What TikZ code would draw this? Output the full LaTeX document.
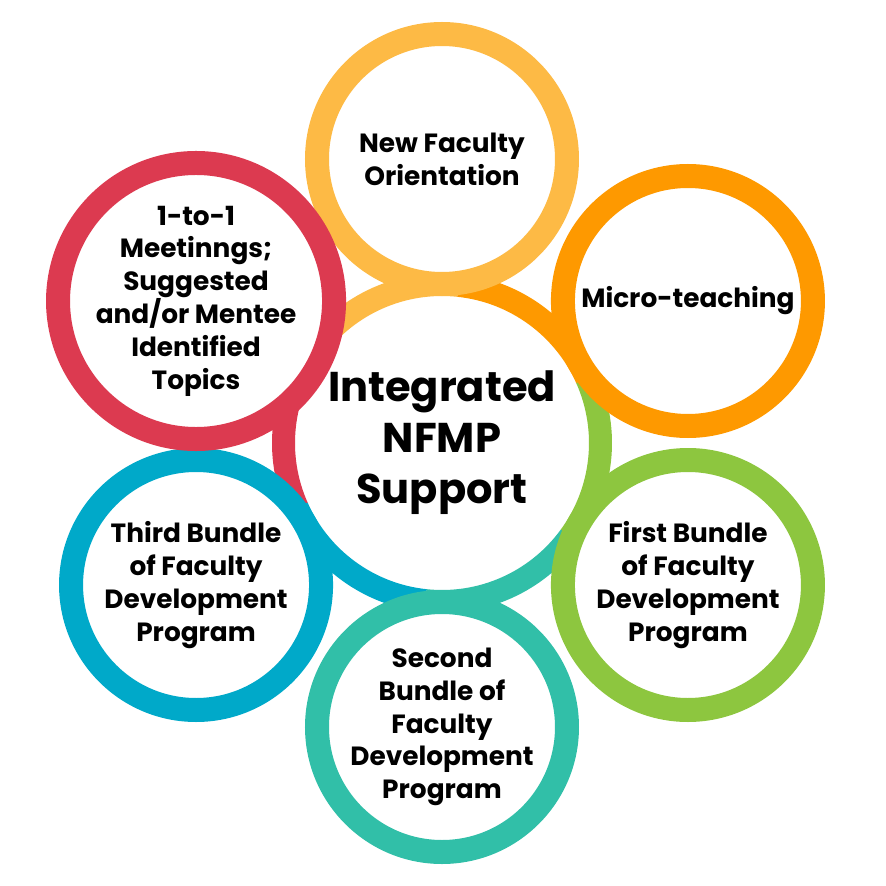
\documentclass[tikz,border=0pt]{standalone}
\usepackage{fontspec}
\setmainfont{Poppins}
\usepackage{xcolor}
\usetikzlibrary{positioning}

\begin{document}
\begin{tikzpicture}[
    ring/.style={
        circle, draw, line width=0.72cm, fill=white, minimum size=7.5cm,
        inner sep=0pt, align=center, text=black,
        font=\fontsize{22.5}{28}\selectfont\bfseries
    },
    hubnode/.style={
        circle, fill=white, minimum size=8.82cm, inner sep=0pt,
        align=center, text=black,
        font=\fontsize{35.5}{43.5}\selectfont\bfseries
    },
    seg/.style={line width=0.69cm}
]

% Ring colors (counterclockwise from the top)
\definecolor{cyellow}{HTML}{FDBA45}
\definecolor{corange}{HTML}{FE9900}
\definecolor{cgreen}{HTML}{8DC63F}
\definecolor{cteal}{HTML}{31BFA8}
\definecolor{cblue}{HTML}{00A9C9}
\definecolor{cred}{HTML}{DC3A50}

\useasboundingbox (-13.26,-13.29) rectangle (13.32,13.29);

% Central hub
\node[hubnode] (hub) at (0,0) {Integrated\\NFMP\\Support};

% Hub ring, one arc per color
\draw[seg, corange] ([shift={(24:4.755)}]hub.center) arc[start angle=24, end angle=84, radius=4.755];
\draw[seg, cyellow] ([shift={(84:4.755)}]hub.center) arc[start angle=84, end angle=144, radius=4.755];
\draw[seg, cred] ([shift={(144:4.755)}]hub.center) arc[start angle=144, end angle=204, radius=4.755];
\draw[seg, cblue] ([shift={(204:4.755)}]hub.center) arc[start angle=204, end angle=264, radius=4.755];
\draw[seg, cteal] ([shift={(264:4.755)}]hub.center) arc[start angle=264, end angle=324, radius=4.755];
\draw[seg, cgreen] ([shift={(324:4.755)}]hub.center) arc[start angle=324, end angle=384, radius=4.755];

% Outer circles
\node[ring, draw=cyellow] (orient) at (90:8.52) {New Faculty\\Orientation};
\node[ring, draw=corange] (micro) at (30:8.52) {Micro-teaching};
\node[ring, draw=cgreen] (first) at (-30:8.52) {First Bundle\\of Faculty\\Development\\Program};
\node[ring, draw=cteal] (second) at (-90:8.52) {Second\\Bundle of\\Faculty\\Development\\Program};
\node[ring, draw=cblue] (third) at (-150:8.52) {Third Bundle\\of Faculty\\Development\\Program};
\node[ring, draw=cred] (meet) at (150:8.52) {1-to-1\\Meetinngs;\\Suggested\\and/or Mentee\\Identified\\Topics};

\end{tikzpicture}
\end{document}
